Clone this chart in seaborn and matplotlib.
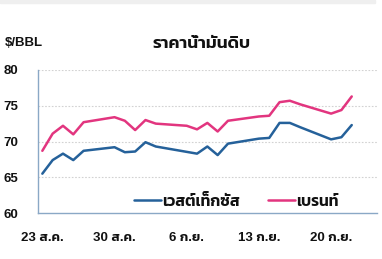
import matplotlib
matplotlib.use("Agg")
import matplotlib.pyplot as plt
import seaborn as sns
import pandas as pd
import numpy as np

# ---- data ----
dates = ["2021-08-23", "2021-08-24", "2021-08-25", "2021-08-26", "2021-08-27",
         "2021-08-30", "2021-08-31", "2021-09-01", "2021-09-02", "2021-09-03",
         "2021-09-06", "2021-09-07", "2021-09-08", "2021-09-09", "2021-09-10",
         "2021-09-13", "2021-09-14", "2021-09-15", "2021-09-16", "2021-09-17",
         "2021-09-20", "2021-09-21", "2021-09-22"]
wti = [65.5, 67.4, 68.3, 67.4, 68.7,
       69.2, 68.5, 68.6, 69.9, 69.3,
       None, 68.3, 69.3, 68.1, 69.7,
       70.4, 70.5, 72.6, 72.6, 72.0,
       70.3, 70.6, 72.3]
brent = [68.7, 71.1, 72.2, 71.0, 72.7,
         73.4, 72.9, 71.6, 73.0, 72.5,
         72.2, 71.7, 72.6, 71.4, 72.9,
         73.5, 73.6, 75.5, 75.7, 75.2,
         73.9, 74.4, 76.3]
series_names = ["เวสต์เท็กซัส", "เบรนท์"]
tick_dates = ["2021-08-23", "2021-08-30", "2021-09-06", "2021-09-13", "2021-09-20"]
tick_labels = ["23 ส.ค.", "30 ส.ค.", "6 ก.ย.", "13 ก.ย.", "20 ก.ย."]
y_ticks = [60, 65, 70, 75, 80]
title = "ราคาน้ำมันดิบ"
unit = "$/BBL"

# ---- frame ----
start = pd.Timestamp(dates[0])
day = [(pd.Timestamp(d) - start).days for d in dates]
df = pd.concat([
    pd.DataFrame({"day": day, "price": wti, "series": series_names[0]}),
    pd.DataFrame({"day": day, "price": brent, "series": series_names[1]}),
]).dropna()

sns.set_theme(style="white")
FAM = ["Liberation Sans", "Kanit", "DejaVu Sans"]
plt.rcParams["font.family"] = FAM
WT = 600

W, H = 382, 259
fig = plt.figure(figsize=(W / 100, H / 100), dpi=100)
ax = fig.add_axes([37.7 / W, 1 - 213 / H, (377 - 37.7) / W, (213 - 70) / H])

palette = {series_names[0]: "#25619a", series_names[1]: "#e2357f"}
sns.lineplot(data=df, x="day", y="price", hue="series", palette=palette,
             linewidth=1.8, ax=ax, legend=True)

off = 0.45
ax.set_xlim(-off, 32.9 - off)
ax.set_ylim(60, 80)
ax.set_yticks(y_ticks)
ax.set_yticklabels([str(v) for v in y_ticks])
tpos = [(pd.Timestamp(t) - start).days for t in tick_dates]
ax.set_xticks(tpos)
ax.set_xticklabels(tick_labels)
ax.set_xticks([t - off for t in tpos], minor=True)
ax.tick_params(axis="x", which="major", length=0, pad=14, labelsize=9.5)
ax.tick_params(axis="x", which="minor", length=5, width=0.9, color="#8aa8c6")
ax.tick_params(axis="y", which="major", length=4, width=0.9, color="#8aa8c6",
               pad=10, labelsize=9.5)
for lab in ax.get_xticklabels() + ax.get_yticklabels():
    lab.set_fontweight(WT)
    lab.set_color("#111111")

for y in y_ticks[1:]:
    ax.axhline(y, color="#d2d2d2", lw=0.8, ls=(0, (1.5, 1.5)), zorder=0)

for s in ["top", "right"]:
    ax.spines[s].set_visible(False)
for s in ["left", "bottom"]:
    ax.spines[s].set_color("#8aa8c6")
    ax.spines[s].set_linewidth(1.0)
ax.set_xlabel("")
ax.set_ylabel("")

leg = ax.legend(loc="center", bbox_to_anchor=((236 - 37.7) / (377 - 37.7), (213 - 201) / 143),
                ncol=2, frameon=False, handlelength=1.75, handletextpad=0.05,
                columnspacing=1.8, prop={"family": FAM, "weight": WT, "size": 11.3})
for t in leg.get_texts():
    t.set_color("#111111")

fig.text(202 / W, 1 - 44 / H, title, ha="center", va="center",
         fontsize=12.5, fontweight=WT, color="#111111")
fig.text(5 / W, 1 - 43.5 / H, unit, ha="left", va="center",
         fontsize=9.5, fontweight=WT, color="#111111")

fig.patches.append(plt.Rectangle((0, 1 - 3 / H), 375 / W, 3 / H, transform=fig.transFigure,
                                 color="#efefef", zorder=0))

fig.savefig("out.png", dpi=100)
